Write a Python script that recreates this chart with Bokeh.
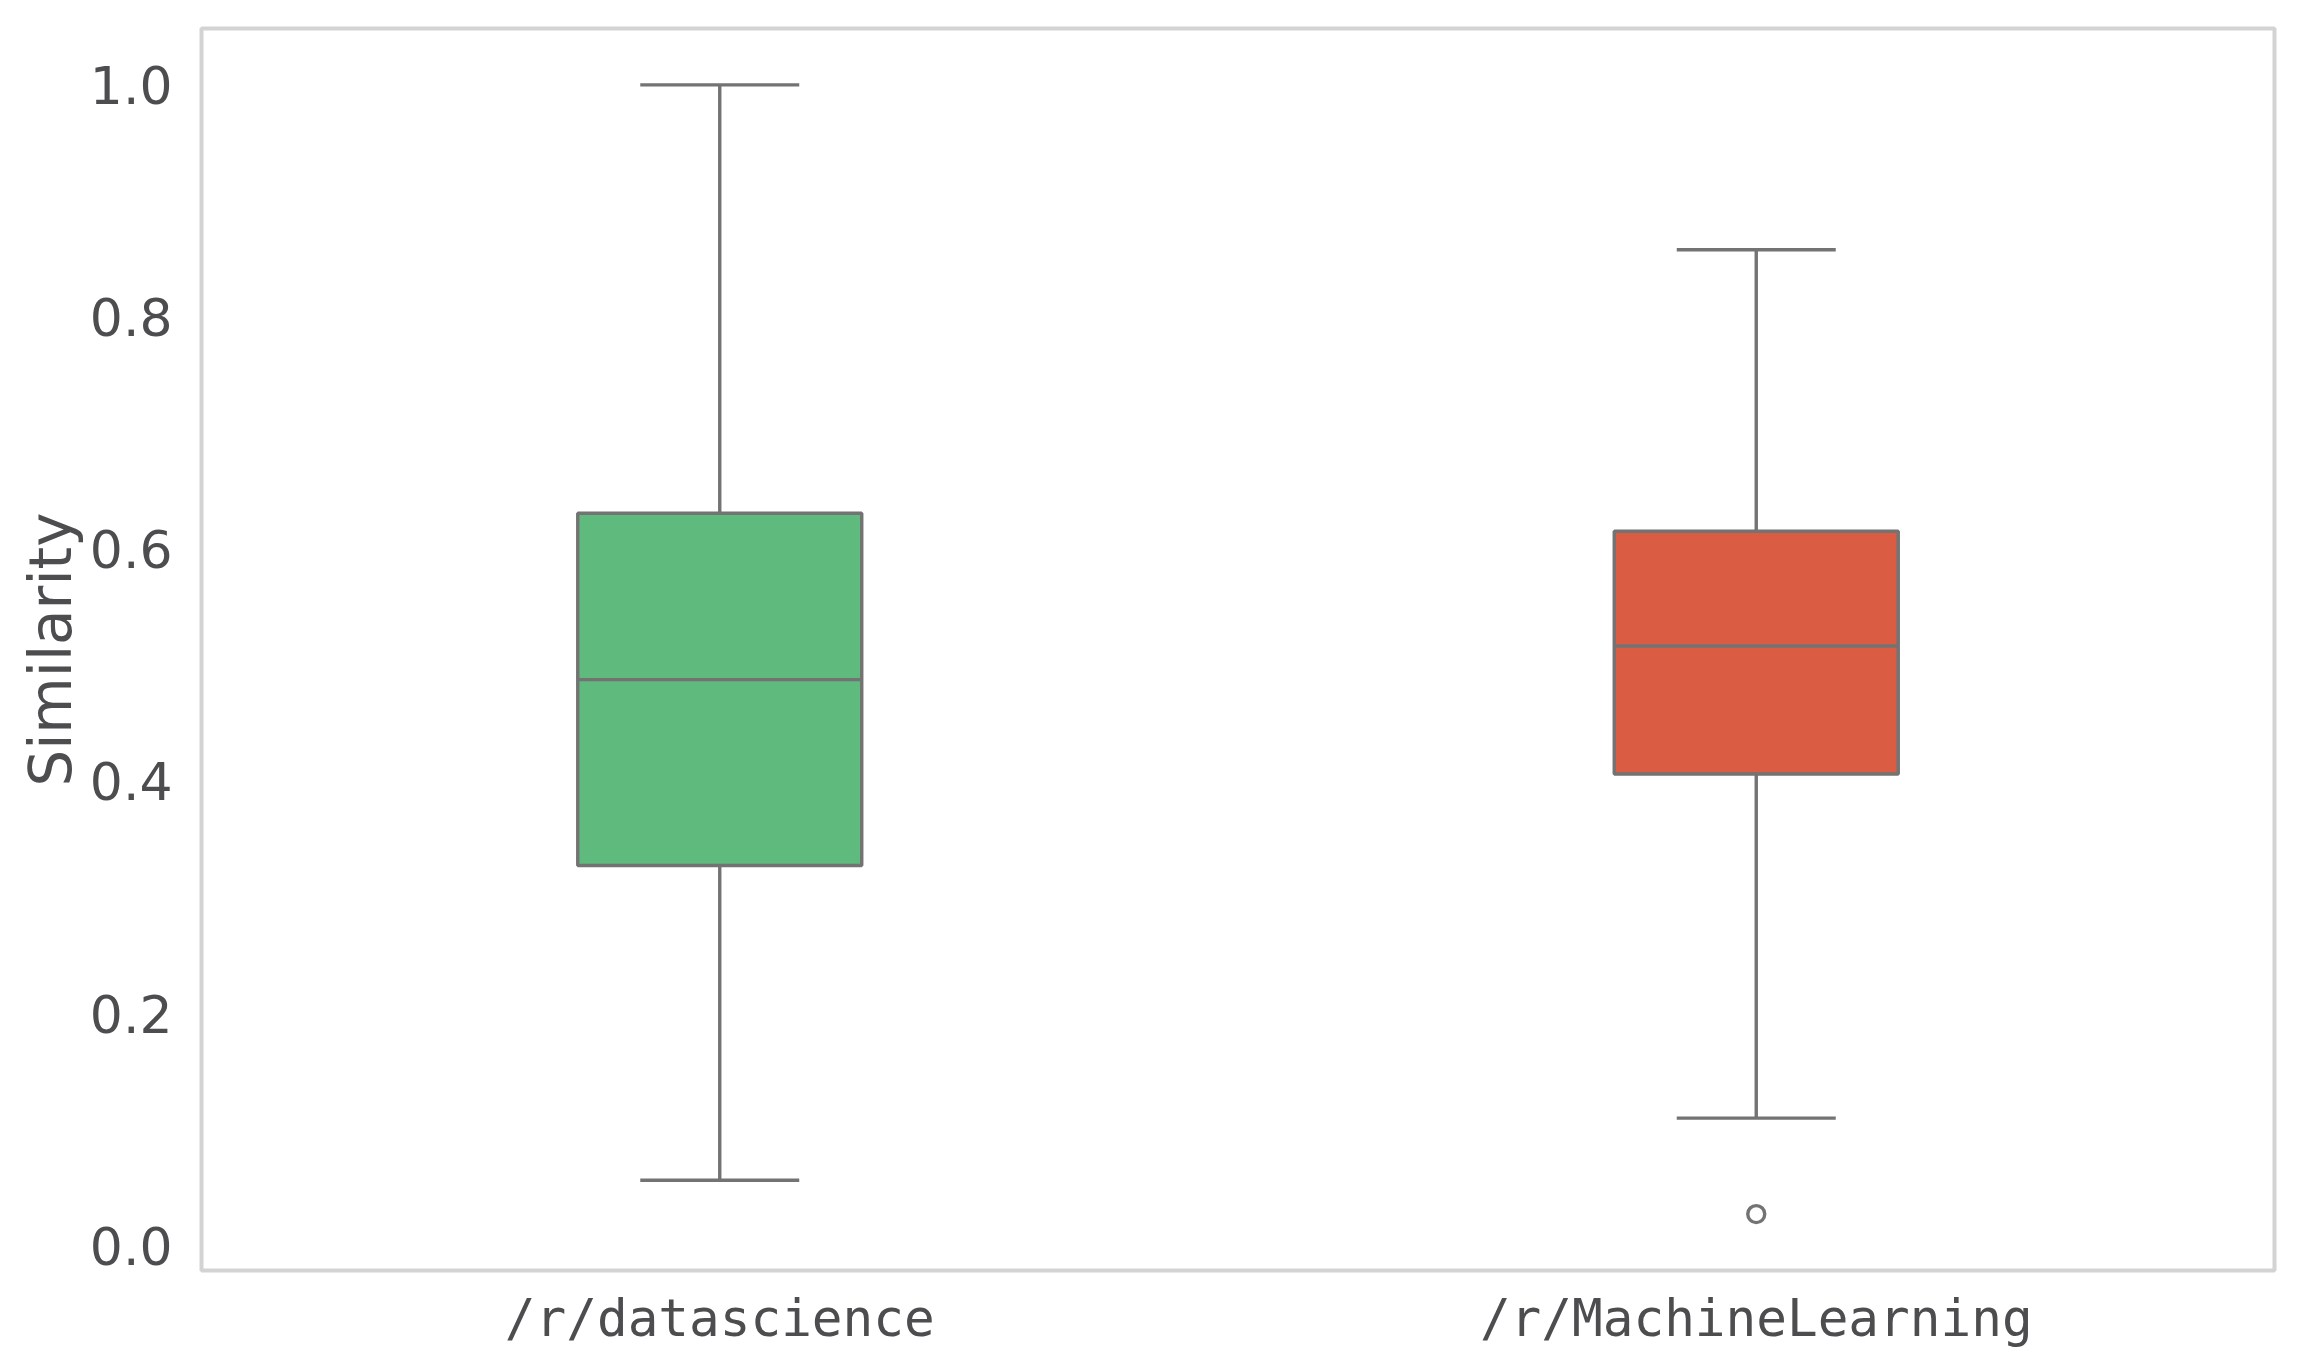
from bokeh.plotting import figure
from bokeh.models import ColumnDataSource, FactorRange, Range1d, FixedTicker
from bokeh.transform import dodge
from bokeh.embed import file_html
from bokeh.resources import INLINE

# ---- data ----
categories = ["/r/datascience", "/r/MachineLearning"]
lower_whisker = [0.0565, 0.110]
q1 = [0.3276, 0.4064]
median = [0.4877, 0.5167]
q3 = [0.631, 0.6155]
upper_whisker = [1.0, 0.858]
box_colors = ["#5fba7d", "#d95c43"]
outlier_cat = ["/r/MachineLearning"]
outlier_val = [0.0273]
y_ticks = [0.0, 0.2, 0.4, 0.6, 0.8, 1.0]

EDGE = "#737373"
TEXT = "#4d4d4f"
BOX_W = 0.274
CAP_HALF = 0.0767
LW = 3.4

src = ColumnDataSource(dict(cat=categories, lw=lower_whisker, q1=q1, med=median,
                            q3=q3, uw=upper_whisker, color=box_colors))
out_src = ColumnDataSource(dict(cat=outlier_cat, val=outlier_val))

p = figure(width=2306, height=1363, output_backend="svg", toolbar_location=None,
           x_range=FactorRange(*categories, range_padding=0),
           y_range=Range1d(-0.0213, 1.0486))
p.min_border_left = 201
p.min_border_right = 32
p.min_border_top = 28
p.min_border_bottom = 93

# whiskers
p.segment(x0="cat", y0="q3", x1="cat", y1="uw", source=src, line_color=EDGE, line_width=LW)
p.segment(x0="cat", y0="q1", x1="cat", y1="lw", source=src, line_color=EDGE, line_width=LW)
# caps
p.segment(x0=dodge("cat", -CAP_HALF, range=p.x_range), y0="uw",
          x1=dodge("cat", CAP_HALF, range=p.x_range), y1="uw",
          source=src, line_color=EDGE, line_width=LW)
p.segment(x0=dodge("cat", -CAP_HALF, range=p.x_range), y0="lw",
          x1=dodge("cat", CAP_HALF, range=p.x_range), y1="lw",
          source=src, line_color=EDGE, line_width=LW)
# boxes
p.vbar(x="cat", bottom="q1", top="q3", width=BOX_W, source=src,
       fill_color="color", line_color=EDGE, line_width=LW)
# medians
p.segment(x0=dodge("cat", -BOX_W / 2, range=p.x_range), y0="med",
          x1=dodge("cat", BOX_W / 2, range=p.x_range), y1="med",
          source=src, line_color=EDGE, line_width=LW)
# outliers
p.scatter(x="cat", y="val", source=out_src, marker="circle", size=17,
          fill_color=None, line_color=EDGE, line_width=3.4)

# styling
p.xgrid.visible = False
p.ygrid.visible = False
p.outline_line_color = "#d3d3d3"
p.outline_line_width = 4
p.background_fill_color = "white"
p.border_fill_color = "white"

for ax in (p.xaxis[0], p.yaxis[0]):
    ax.axis_line_color = None
    ax.major_tick_line_color = None
    ax.minor_tick_line_color = None
    ax.major_tick_out = 0
    ax.major_tick_in = 0
    ax.minor_tick_out = 0
    ax.major_label_text_color = TEXT

p.yaxis.ticker = FixedTicker(ticks=y_ticks)
p.yaxis.major_label_overrides = {t: f"{t:.1f}" for t in y_ticks}
p.yaxis.major_label_text_font = "DejaVu Sans"
p.yaxis.major_label_text_font_size = "52px"
p.yaxis.major_label_standoff = 29
p.yaxis.axis_label = "Similarity"
p.yaxis.axis_label_text_font = "DejaVu Sans"
p.yaxis.axis_label_text_font_style = "normal"
p.yaxis.axis_label_text_font_size = "58px"
p.yaxis.axis_label_text_color = TEXT
p.yaxis.axis_label_standoff = 2

p.xaxis.major_label_text_font = "DejaVu Sans Mono"
p.xaxis.major_label_text_font_size = "51px"
p.xaxis.major_label_standoff = 18

open("out.html", "w").write(file_html(p, INLINE))
